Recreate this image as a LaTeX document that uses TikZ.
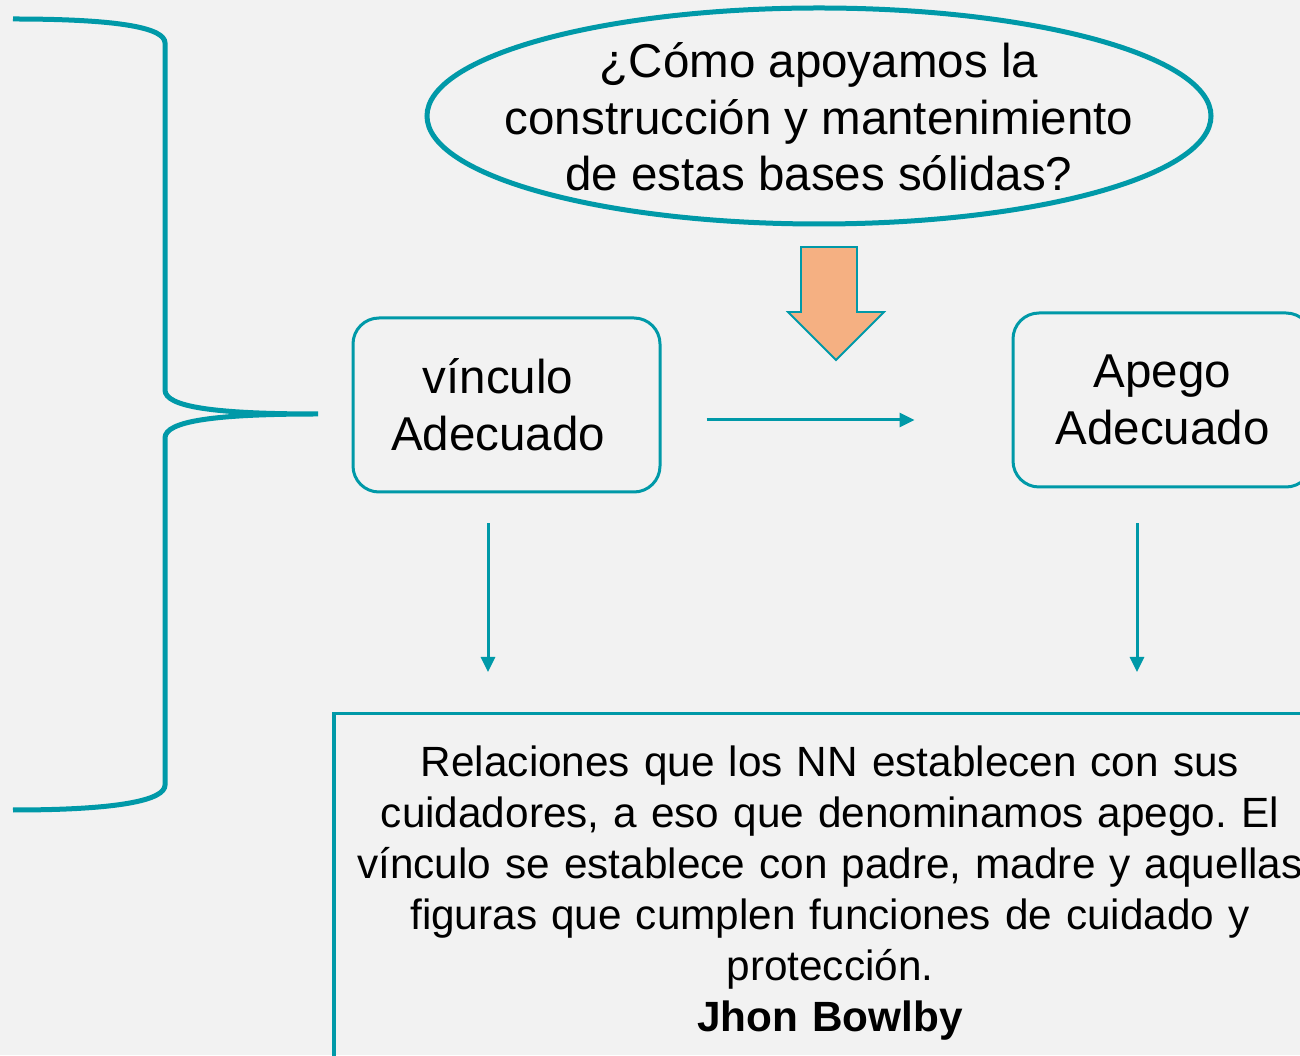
\documentclass[tikz,border=0pt]{standalone}
\usepackage{fontspec}
\setmainfont{Liberation Sans}
\usetikzlibrary{arrows.meta}
\frenchspacing

\begin{document}
\begin{tikzpicture}[x=1pt,y=1pt,
  textoGrande/.style={align=center,inner sep=0pt,font=\fontsize{47.5}{56.5}\selectfont},
  cajaRedonda/.style={draw=drawColor,line width=3pt,rounded corners=26pt,minimum height=174pt,textoGrande},
  flecha/.style={draw=drawColor,line width=3pt,-{Triangle[length=15pt,width=14pt]}}]
\definecolor[named]{fillColor}{rgb}{0.95,0.95,0.95}
\definecolor[named]{drawColor}{rgb}{0.00,0.60,0.66}
\definecolor[named]{arrowColor}{rgb}{0.96,0.69,0.51}
\path[use as bounding box,fill=fillColor] (0,0) rectangle (1300,1055);
\begin{scope}
\path[clip] (0,0) rectangle (1300,1055);

% pregunta
\node[textoGrande] (pregunta) at (819,938) {¿Cómo apoyamos la\\construcción y mantenimiento\\de estas bases sólidas?};
\path[draw=drawColor,line width=5pt] (819,939) ellipse [x radius=392, y radius=108];

% flecha gruesa
\path[draw=drawColor,line width=1.8pt,line join=miter,fill=arrowColor] (801,808) -- (857,808) --
	(857,743) -- (884,743) -- (836,695) -- (788,743) -- (801,743) -- cycle;

% cajas
\node[cajaRedonda,minimum width=307pt] (vinculo) at (506.5,650) {\hspace*{-17pt}vínculo\\\hspace*{-17pt}Adecuado};
\node[cajaRedonda,minimum width=299pt] (apego) at (1162.5,655) {Apego\\Adecuado};

\node[draw=drawColor,line width=3.5pt,anchor=north,text width=980pt,inner xsep=6pt,inner ysep=32pt,
  align=center,font=\fontsize{42.3}{51}\selectfont] (relacion) at (830,343)
  {Relaciones que los NN establecen con sus\\cuidadores, a eso que denominamos apego. El\\vínculo se establece con padre, madre y aquellas\\figuras que cumplen funciones de cuidado y\\protección.\\\textbf{Jhon Bowlby}};

% flechas
\draw[flecha,shorten <=45pt,shorten >=97pt] ([yshift=-15pt]vinculo.east) -- ([yshift=-20pt]apego.west);
\draw[flecha,shorten <=30pt,shorten >=40pt] ([xshift=-18.5pt]vinculo.south) -- ([xshift=-18.5pt]vinculo.south |- relacion.north);
\draw[flecha,shorten <=35pt,shorten >=40pt] ([xshift=-25.5pt]apego.south) -- ([xshift=-25.5pt]apego.south |- relacion.north);

% llave
\coordinate (llave) at (318,641);
\path[draw=drawColor,line width=5pt] (13,1036) .. controls (120,1036) and (165,1027) .. (165,1012) --
	(165,665) .. controls (165,648) and (215,641) .. (llave) .. controls (215,641) and (165,634) .. (165,617) --
	(165,270) .. controls (165,255) and (120,245) .. (13,245);
\end{scope}
\end{tikzpicture}
\end{document}
